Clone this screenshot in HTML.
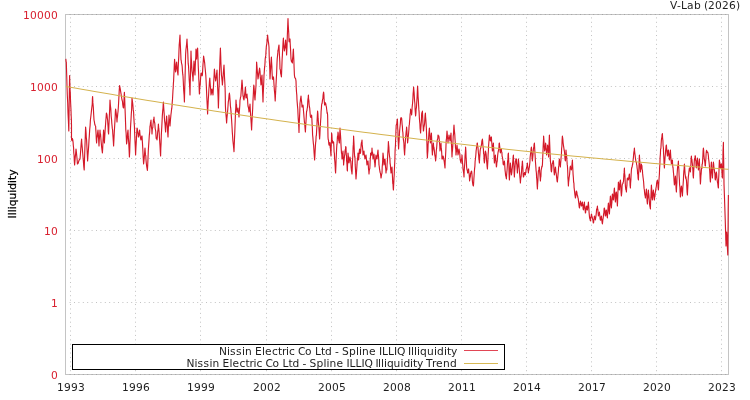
<!DOCTYPE html>
<html><head><meta charset="utf-8"><title>V-Lab</title>
<style>html,body{margin:0;padding:0;background:#fff}svg{display:block;will-change:transform}text{font-family:"DejaVu Sans","Liberation Sans",sans-serif;font-size:10.67px}</style></head><body>
<svg width="750" height="400" viewBox="0 0 750 400">
<rect width="750" height="400" fill="#fff"/>
<path d="M70.5 17.4 V374.5 M135.5 17.4 V374.5 M200.5 17.4 V374.5 M266.5 17.4 V374.5 M331.5 17.4 V374.5 M396.5 17.4 V374.5 M461.5 17.4 V374.5 M526.5 17.4 V374.5 M591.5 17.4 V374.5 M656.5 17.4 V374.5 M721.5 17.4 V374.5" fill="none" stroke="#c2c2c2" stroke-width="1" stroke-dasharray="1 3.41"/>
<path d="M69.6 86.5 H728.5 M69.6 158.5 H728.5 M69.6 230.5 H728.5 M69.6 302.5 H728.5" fill="none" stroke="#c2c2c2" stroke-width="1" stroke-dasharray="1 3.4"/>
<rect x="65.5" y="14.5" width="663.0" height="360.0" fill="none" stroke="#c4c4c4" stroke-width="1" shape-rendering="crispEdges"/>
<path d="M69.6 14.5 H728.5 M69.6 374.5 H728.5" fill="none" stroke="#a4a4a4" stroke-width="1" stroke-dasharray="1 3.4"/>
<path d="M65.6 59.0 65.8 59.2 65.9 59.5 66.1 61.7 66.3 62.0 66.5 69.0 66.8 78.6 67.0 86.3 67.3 95.0 67.7 102.7 68.0 113.0 68.4 120.6 68.8 131.0 69.0 116.9 69.2 102.0 69.4 88.1 69.6 75.5 69.8 81.4 70.0 88.7 70.3 92.7 70.5 100.0 70.7 104.2 71.0 110.4 71.2 116.3 71.4 120.0 71.5 125.2 71.5 129.7 71.5 136.4 71.6 140.0 71.8 138.4 72.1 140.6 72.3 138.6 72.6 139.0 72.8 140.2 73.1 142.4 73.3 145.2 73.6 148.0 73.8 153.2 74.1 155.5 74.3 161.0 74.6 165.0 74.9 161.4 75.3 156.6 75.7 153.1 76.0 149.0 76.3 151.4 76.7 155.2 77.1 159.4 77.4 164.0 78.1 163.3 78.7 161.3 79.3 159.7 80.0 159.0 80.4 154.3 80.8 148.9 81.2 143.4 81.6 139.0 81.8 143.1 82.1 146.1 82.3 148.0 82.6 152.0 83.0 156.7 83.4 161.1 83.8 166.6 84.2 170.0 84.5 159.9 84.9 147.9 85.2 139.2 85.6 127.0 85.8 129.1 86.1 133.3 86.3 137.5 86.6 140.0 86.8 144.2 87.1 150.5 87.3 154.4 87.6 161.0 87.9 156.3 88.3 151.3 88.7 145.5 89.0 140.0 89.3 136.1 89.7 129.4 90.1 125.6 90.4 120.0 90.8 116.8 91.2 113.2 91.6 109.4 92.0 106.0 92.2 104.7 92.3 102.6 92.4 98.9 92.6 96.6 92.9 102.9 93.3 107.0 93.7 114.8 94.0 120.0 94.4 121.9 94.8 124.5 95.2 125.5 95.6 126.0 95.8 129.6 96.1 134.2 96.3 139.3 96.6 143.0 96.9 138.3 97.3 136.4 97.7 132.3 98.0 130.0 98.2 132.9 98.5 136.7 98.8 142.8 99.0 146.0 99.2 140.9 99.5 137.2 99.8 133.7 100.0 130.0 100.2 133.6 100.5 133.7 100.8 137.3 101.0 140.0 101.3 143.4 101.7 147.7 102.1 150.7 102.4 153.0 102.7 148.3 103.0 140.8 103.3 135.5 103.6 130.0 103.8 132.8 104.0 137.7 104.2 141.1 104.4 143.0 104.7 137.2 105.0 132.5 105.3 127.9 105.6 124.0 105.8 120.5 106.0 118.5 106.2 116.0 106.4 113.0 106.7 114.0 107.0 115.0 107.3 118.0 107.6 120.0 107.8 123.1 108.1 127.2 108.3 131.9 108.6 134.0 108.9 126.1 109.3 117.0 109.7 108.9 110.0 100.0 110.4 105.5 110.8 108.7 111.2 116.2 111.6 120.0 111.8 123.3 112.1 126.1 112.3 128.4 112.6 130.0 112.8 133.7 113.1 137.7 113.3 140.8 113.6 146.0 113.9 139.9 114.3 131.7 114.7 125.2 115.0 120.0 115.2 116.4 115.3 113.5 115.4 111.3 115.6 109.0 115.9 110.9 116.3 114.0 116.7 117.7 117.0 122.0 117.2 118.3 117.5 116.6 117.8 113.1 118.0 112.0 118.4 106.5 118.8 99.1 119.2 91.1 119.6 85.6 120.2 88.5 120.8 92.3 121.4 96.0 122.0 100.0 122.4 100.9 122.8 105.0 123.2 107.5 123.6 108.0 123.8 104.0 124.0 100.2 124.2 95.1 124.4 92.4 124.7 99.1 125.0 107.7 125.3 115.4 125.6 124.0 125.8 130.0 126.1 133.0 126.3 137.6 126.6 144.0 126.9 141.9 127.3 137.1 127.7 132.4 128.0 130.0 128.3 136.9 128.7 142.1 129.1 150.3 129.4 157.0 129.7 151.7 129.9 144.6 130.2 137.3 130.4 130.0 130.7 124.3 131.0 119.6 131.3 114.0 131.6 110.0 131.7 107.8 131.8 104.1 131.9 101.8 132.0 98.0 132.4 101.0 132.8 104.2 133.2 109.4 133.6 112.0 133.8 117.0 134.0 120.1 134.2 123.4 134.4 126.0 134.7 134.2 135.0 141.2 135.3 146.9 135.6 155.0 135.9 148.3 136.3 141.1 136.7 133.3 137.0 128.0 137.3 128.8 137.7 131.8 138.1 134.0 138.4 137.0 138.7 135.8 139.0 134.9 139.3 131.6 139.6 130.0 139.9 133.8 140.3 136.5 140.7 138.9 141.0 140.0 141.2 138.6 141.5 137.2 141.8 136.2 142.0 136.0 142.4 142.1 142.8 149.1 143.2 157.4 143.6 164.0 143.9 161.2 144.3 157.0 144.7 151.9 145.0 148.0 145.2 151.5 145.5 154.9 145.8 155.8 146.0 160.0 146.3 163.1 146.7 166.4 147.1 168.6 147.4 170.4 147.7 165.1 148.0 158.1 148.3 151.1 148.6 146.0 148.9 141.9 149.3 135.5 149.7 131.9 150.0 126.0 150.2 125.9 150.5 122.7 150.8 121.2 151.0 120.0 151.2 124.8 151.5 127.7 151.8 129.5 152.0 134.0 152.2 130.4 152.5 128.0 152.8 127.7 153.0 124.0 153.2 123.2 153.5 119.4 153.8 119.7 154.0 117.0 154.2 120.7 154.5 122.0 154.8 123.3 155.0 126.0 155.2 128.6 155.5 129.9 155.8 132.0 156.0 136.0 156.2 138.4 156.5 138.4 156.8 139.1 157.0 140.0 157.3 137.3 157.7 131.8 158.1 129.1 158.4 124.0 158.7 128.2 158.9 129.6 159.2 133.0 159.4 137.0 159.7 141.1 160.0 145.7 160.3 151.5 160.6 156.0 160.8 148.8 161.1 142.8 161.3 135.4 161.6 130.0 161.8 126.7 162.1 120.6 162.3 116.4 162.6 112.0 162.8 109.8 163.0 108.2 163.2 104.3 163.4 102.0 163.7 107.3 163.9 110.0 164.2 114.1 164.4 118.0 164.7 121.6 165.0 123.6 165.3 128.3 165.6 132.0 165.8 127.0 166.1 122.5 166.3 120.9 166.6 116.0 166.9 120.3 167.3 126.4 167.7 132.4 168.0 137.0 168.2 131.7 168.5 125.5 168.8 120.6 169.0 115.0 169.2 117.9 169.5 121.4 169.8 122.1 170.0 126.0 170.2 123.2 170.5 119.2 170.8 116.3 171.0 114.0 171.2 112.8 171.5 110.0 171.8 108.2 172.0 106.0 172.2 102.8 172.5 99.2 172.8 93.8 173.0 90.0 173.2 88.1 173.3 85.5 173.4 83.3 173.6 81.0 173.8 76.2 174.1 70.1 174.3 64.9 174.6 59.4 174.8 62.5 175.1 67.0 175.3 69.4 175.6 72.0 175.8 70.6 176.1 68.3 176.3 63.8 176.6 62.0 176.9 65.4 177.3 69.8 177.7 72.8 178.0 75.0 178.2 67.7 178.5 61.4 178.8 56.1 179.0 50.0 179.2 45.0 179.5 41.7 179.8 37.5 180.0 35.0 180.2 41.8 180.5 48.4 180.8 54.9 181.0 60.0 181.2 60.2 181.5 63.1 181.8 64.2 182.0 65.0 182.2 66.7 182.5 71.6 182.8 74.7 183.0 76.0 183.3 81.7 183.7 90.4 184.1 95.2 184.4 102.0 184.7 90.2 185.0 80.0 185.3 67.7 185.6 55.0 185.9 50.0 186.3 46.8 186.7 43.0 187.0 39.0 187.2 43.5 187.5 48.1 187.8 53.5 188.0 59.0 188.2 63.7 188.5 65.6 188.8 71.2 189.0 75.0 189.2 79.8 189.5 83.6 189.8 89.5 190.0 95.0 190.2 84.4 190.5 73.0 190.8 60.7 191.0 51.0 191.2 57.5 191.5 61.9 191.8 67.4 192.0 71.0 192.2 72.3 192.5 75.3 192.8 77.1 193.0 81.0 193.2 76.8 193.5 70.3 193.8 64.9 194.0 61.0 194.2 64.3 194.5 69.2 194.8 72.5 195.0 75.0 195.2 67.8 195.5 60.9 195.8 56.8 196.0 49.0 196.2 51.7 196.3 54.6 196.4 55.3 196.6 59.0 196.8 54.9 197.1 54.1 197.3 50.5 197.6 48.0 197.8 53.0 198.1 61.8 198.3 67.2 198.6 73.0 198.8 79.2 199.0 82.3 199.2 89.8 199.4 94.0 199.8 87.4 200.2 84.6 200.6 78.1 201.0 73.0 201.3 73.0 201.7 74.2 202.1 75.8 202.4 75.0 202.7 69.6 203.0 64.4 203.3 60.8 203.6 56.0 203.9 58.0 204.3 60.3 204.7 63.2 205.0 67.0 205.2 68.7 205.5 72.1 205.8 75.4 206.0 79.0 206.4 87.2 206.8 97.3 207.2 104.6 207.6 114.0 207.8 109.3 208.1 103.5 208.3 99.3 208.6 95.0 208.9 89.3 209.2 85.8 209.5 80.8 209.8 78.0 210.1 82.9 210.4 86.7 210.7 89.8 211.0 95.0 211.2 93.4 211.5 93.3 211.8 89.3 212.0 89.0 212.2 91.5 212.5 91.8 212.8 93.5 213.0 95.0 213.3 89.5 213.7 81.7 214.1 75.5 214.4 69.0 214.7 72.6 215.0 76.4 215.3 77.5 215.6 81.0 215.9 79.2 216.3 76.1 216.7 73.2 217.0 70.0 217.3 79.2 217.7 88.5 218.1 97.2 218.4 108.0 218.7 98.6 218.9 90.2 219.2 84.0 219.4 75.0 219.7 67.5 219.9 60.5 220.2 53.5 220.4 48.0 220.7 55.8 220.9 62.6 221.2 68.8 221.4 75.0 221.7 76.8 221.9 79.2 222.2 81.9 222.4 85.0 222.8 79.9 223.2 74.0 223.6 69.8 224.0 65.0 224.2 69.5 224.5 76.9 224.8 82.2 225.0 86.0 225.2 92.1 225.3 97.2 225.4 105.4 225.6 110.0 225.8 112.7 226.1 116.1 226.3 118.3 226.6 123.0 226.9 118.4 227.3 114.4 227.7 110.3 228.0 106.0 228.3 101.9 228.7 99.5 229.1 94.8 229.4 93.0 229.7 95.5 229.9 98.3 230.2 102.4 230.4 106.0 230.7 108.1 231.0 111.6 231.3 115.9 231.6 120.0 231.8 123.2 232.1 128.3 232.3 132.1 232.6 136.0 232.9 140.7 233.3 144.3 233.7 148.3 234.0 151.6 234.2 146.3 234.5 138.5 234.8 131.9 235.0 126.0 235.2 121.0 235.5 111.9 235.8 107.2 236.0 100.0 236.2 103.4 236.5 104.6 236.8 110.0 237.0 112.0 237.2 112.2 237.5 110.4 237.8 109.7 238.0 108.0 238.2 111.2 238.5 111.4 238.8 114.8 239.0 117.0 239.2 112.8 239.5 109.5 239.8 105.2 240.0 100.0 240.2 99.5 240.5 97.3 240.8 96.7 241.0 94.0 241.2 91.0 241.5 87.6 241.8 82.7 242.0 80.0 242.2 82.6 242.5 86.9 242.8 91.6 243.0 96.0 243.2 95.8 243.5 99.0 243.8 99.2 244.0 100.0 244.3 97.1 244.7 93.9 245.1 90.8 245.4 87.0 245.6 89.7 245.7 91.0 245.8 96.1 246.0 98.0 246.2 97.7 246.5 96.0 246.8 95.1 247.0 94.0 247.2 97.5 247.5 98.7 247.8 103.7 248.0 106.0 248.2 106.8 248.5 107.7 248.8 109.8 249.0 112.0 249.2 110.7 249.5 107.1 249.8 106.7 250.0 104.0 250.4 111.9 250.8 117.0 251.2 123.1 251.6 130.0 251.9 122.4 252.3 115.6 252.7 108.3 253.0 100.0 253.2 96.6 253.4 92.9 253.6 87.5 253.8 85.0 254.1 87.7 254.4 91.8 254.7 97.0 255.0 100.0 255.2 95.9 255.5 93.2 255.8 88.0 256.0 86.0 256.1 78.7 256.3 73.3 256.5 68.5 256.6 62.0 257.0 66.8 257.3 71.0 257.6 74.1 258.0 79.0 258.4 76.3 258.8 73.4 259.2 70.6 259.6 68.0 260.0 71.1 260.3 77.7 260.6 79.8 261.0 85.0 261.2 83.9 261.5 81.3 261.8 76.1 262.0 75.0 262.2 81.6 262.5 89.5 262.8 96.7 263.0 102.0 263.2 95.1 263.5 87.8 263.8 80.9 264.0 75.0 264.2 73.3 264.5 68.1 264.8 66.2 265.0 63.0 265.2 58.9 265.5 57.1 265.8 55.4 266.0 51.0 266.4 45.9 266.8 44.0 267.2 39.0 267.6 35.0 268.0 39.2 268.3 41.6 268.6 43.2 269.0 47.0 269.2 56.2 269.5 63.0 269.8 69.6 270.0 79.0 270.4 72.0 270.7 68.0 271.0 62.4 271.4 57.0 271.6 61.9 271.9 66.9 272.1 73.0 272.4 79.0 272.7 78.2 273.0 79.5 273.3 76.8 273.6 78.0 274.0 84.5 274.4 90.5 274.8 94.1 275.2 101.0 275.6 92.8 276.1 82.6 276.6 73.7 277.0 63.0 277.2 59.1 277.5 56.1 277.8 52.9 278.0 50.0 278.2 50.2 278.5 47.8 278.8 45.8 279.0 45.0 279.2 50.8 279.5 56.3 279.8 61.6 280.0 69.0 280.4 69.8 280.7 74.0 281.0 74.4 281.4 77.0 281.6 72.8 281.9 65.2 282.1 59.8 282.4 55.0 282.6 50.8 282.9 45.6 283.1 41.9 283.4 38.0 283.6 42.6 283.9 45.7 284.1 48.7 284.4 51.0 284.7 48.6 285.0 46.7 285.3 44.1 285.6 40.0 285.9 43.9 286.1 48.2 286.4 49.9 286.6 55.0 287.0 46.6 287.3 36.7 287.6 28.5 288.0 18.6 288.2 24.6 288.5 29.2 288.8 34.0 289.0 41.0 289.2 41.8 289.5 38.9 289.8 39.4 290.0 39.0 290.2 43.5 290.5 48.4 290.8 54.7 291.0 59.0 291.4 61.4 291.7 60.3 292.0 62.5 292.4 63.0 292.6 58.9 292.9 56.2 293.1 52.2 293.4 49.0 293.6 54.5 293.9 61.0 294.1 67.6 294.4 75.0 294.8 77.7 295.2 78.0 295.6 78.7 296.0 81.0 296.2 87.0 296.5 92.0 296.8 95.1 297.0 100.0 297.2 102.4 297.5 106.1 297.8 109.3 298.0 114.0 298.2 118.1 298.5 122.0 298.8 127.0 299.0 132.4 299.2 124.3 299.5 117.9 299.8 111.5 300.0 103.0 300.2 102.0 300.5 99.2 300.8 97.5 301.0 96.0 301.2 98.8 301.5 101.1 301.8 103.8 302.0 107.0 302.2 105.2 302.5 105.3 302.8 106.9 303.0 105.0 303.2 106.9 303.5 111.0 303.8 114.4 304.0 117.0 304.4 121.8 304.7 123.6 305.0 127.6 305.4 132.0 305.7 126.0 306.0 121.2 306.3 116.1 306.6 111.0 306.9 110.9 307.1 109.0 307.4 107.6 307.6 105.0 307.8 101.1 308.0 98.6 308.2 98.1 308.4 95.0 308.6 99.2 308.9 100.9 309.1 104.3 309.4 107.0 309.7 108.0 310.0 111.7 310.3 115.8 310.6 117.0 310.9 117.5 311.1 117.1 311.4 116.9 311.6 115.0 311.9 119.2 312.1 123.8 312.4 129.0 312.6 135.0 312.9 137.6 313.1 140.5 313.4 143.8 313.6 145.0 313.9 149.4 314.1 152.9 314.4 157.0 314.6 160.0 314.9 155.6 315.1 151.7 315.4 145.9 315.6 143.0 315.9 140.8 316.1 136.2 316.4 135.3 316.6 131.0 316.9 126.4 317.1 120.4 317.4 114.9 317.6 111.0 317.9 113.8 318.1 118.4 318.4 122.1 318.6 125.0 318.9 127.3 319.1 130.7 319.4 135.6 319.6 139.0 319.9 134.7 320.1 129.7 320.4 124.7 320.6 121.0 320.9 117.3 321.1 111.5 321.4 108.4 321.6 105.0 321.9 103.4 322.1 103.4 322.4 100.9 322.6 99.0 322.9 98.4 323.1 95.4 323.4 93.0 323.6 92.0 323.9 94.5 324.1 99.9 324.4 102.4 324.6 105.0 324.9 103.9 325.1 102.6 325.4 103.5 325.6 103.0 325.9 105.0 326.1 105.8 326.4 106.8 326.6 109.0 326.9 111.0 327.1 113.3 327.4 112.7 327.6 115.0 327.7 119.1 327.8 125.5 327.9 131.3 328.0 137.0 328.2 139.5 328.5 140.1 328.8 143.9 329.0 145.0 329.2 145.2 329.5 144.0 329.8 142.6 330.0 143.0 330.2 147.7 330.5 148.9 330.8 153.7 331.0 156.0 331.1 149.4 331.3 143.7 331.5 139.5 331.6 133.0 331.9 134.9 332.1 139.4 332.4 140.5 332.6 143.0 332.9 141.8 333.1 141.7 333.4 142.0 333.6 142.0 333.9 146.7 334.1 151.8 334.4 153.7 334.6 159.0 334.9 162.2 335.1 165.1 335.4 170.9 335.6 173.0 335.9 165.9 336.1 159.7 336.4 153.7 336.6 149.0 336.8 145.7 337.0 144.2 337.2 141.2 337.4 137.0 337.5 136.4 337.7 136.0 337.9 134.5 338.0 132.0 338.1 133.2 338.3 134.6 338.5 138.6 338.6 139.0 338.8 140.7 339.0 139.6 339.2 142.5 339.4 143.0 339.5 138.9 339.7 135.1 339.9 131.2 340.0 128.0 340.2 131.3 340.5 135.0 340.8 140.1 341.0 145.0 341.2 148.1 341.5 153.4 341.8 154.4 342.0 159.0 342.2 158.4 342.5 154.1 342.8 152.6 343.0 151.0 343.1 155.5 343.3 159.0 343.5 161.3 343.6 165.0 343.9 161.1 344.1 159.9 344.4 157.1 344.6 155.0 344.8 154.8 345.0 151.1 345.2 150.1 345.4 149.0 345.5 149.7 345.7 146.6 345.9 147.2 346.0 147.0 346.1 151.4 346.3 154.8 346.5 156.1 346.6 161.0 346.8 162.1 347.0 164.7 347.2 169.8 347.4 171.0 347.5 165.8 347.7 162.7 347.9 158.7 348.0 153.0 348.2 155.0 348.5 157.3 348.8 161.9 349.0 163.0 349.2 161.9 349.5 159.3 349.8 159.1 350.0 157.0 350.2 158.4 350.5 160.3 350.8 161.5 351.0 165.0 351.2 168.0 351.5 170.7 351.8 172.2 352.0 174.0 352.2 169.6 352.5 161.1 352.8 156.0 353.0 151.0 353.1 147.2 353.3 144.9 353.5 141.1 353.6 136.0 353.8 139.9 354.0 143.8 354.2 148.5 354.4 153.0 354.5 154.5 354.7 157.3 354.9 156.5 355.0 159.0 355.2 164.9 355.5 169.7 355.8 175.0 356.0 179.0 356.2 176.3 356.5 172.3 356.8 168.0 357.0 165.0 357.2 161.5 357.5 158.6 357.8 156.8 358.0 153.0 358.1 153.5 358.3 155.6 358.5 159.0 358.6 160.0 358.9 156.5 359.1 153.2 359.4 150.4 359.6 149.0 359.8 150.2 360.0 150.5 360.2 153.4 360.4 153.0 360.5 152.7 360.7 151.5 360.9 147.8 361.0 147.0 361.2 144.0 361.5 142.3 361.8 141.7 362.0 140.0 362.2 144.4 362.5 147.3 362.8 150.5 363.0 155.0 363.2 153.8 363.5 153.4 363.8 152.5 364.0 151.0 364.2 153.7 364.5 156.0 364.8 157.5 365.0 159.0 365.2 156.9 365.5 158.0 365.8 155.4 366.0 155.0 366.2 157.7 366.5 159.6 366.8 163.2 367.0 165.0 367.2 163.1 367.5 162.2 367.8 161.2 368.0 161.0 368.2 163.2 368.5 168.7 368.8 171.0 369.0 174.0 369.2 171.2 369.5 169.2 369.8 168.7 370.0 165.0 370.1 162.0 370.3 158.2 370.5 156.9 370.6 153.0 370.8 154.0 371.0 155.5 371.2 153.3 371.4 155.0 371.5 153.2 371.7 152.5 371.9 150.8 372.0 148.0 372.2 152.0 372.5 152.1 372.8 155.6 373.0 159.0 373.2 156.6 373.5 155.6 373.8 156.7 374.0 154.0 374.2 157.5 374.5 161.8 374.8 163.4 375.0 167.0 375.2 165.1 375.5 160.8 375.8 157.3 376.0 155.0 376.2 156.8 376.5 158.3 376.8 156.8 377.0 159.0 377.2 157.0 377.5 154.9 377.8 151.4 378.0 150.0 378.2 153.4 378.5 156.4 378.8 160.4 379.0 165.0 379.2 166.0 379.5 168.8 379.8 170.7 380.0 172.0 380.2 172.6 380.5 173.5 380.8 176.0 381.0 178.0 381.2 177.3 381.5 174.6 381.8 173.7 382.0 173.0 382.2 167.1 382.5 163.9 382.8 158.1 383.0 153.0 383.2 154.7 383.5 157.8 383.8 161.7 384.0 165.0 384.2 163.7 384.5 162.4 384.8 159.3 385.0 159.0 385.2 161.5 385.5 166.6 385.8 169.2 386.0 173.0 386.2 170.8 386.5 169.4 386.8 169.9 387.0 167.0 387.1 163.9 387.3 162.2 387.5 159.1 387.6 157.0 387.8 152.9 388.0 150.4 388.2 146.9 388.4 141.6 388.6 144.5 388.9 147.4 389.1 152.3 389.4 155.0 389.6 156.6 389.9 158.5 390.1 163.7 390.4 165.0 390.5 166.8 390.7 170.0 390.9 170.7 391.0 173.0 391.2 172.6 391.5 169.9 391.8 167.5 392.0 167.0 392.1 168.8 392.3 173.7 392.5 177.2 392.6 180.0 392.8 183.7 393.0 183.8 393.2 187.9 393.4 190.0 393.6 185.9 393.8 182.5 394.0 177.7 394.2 175.0 394.4 169.3 394.6 165.1 394.8 161.3 395.0 155.0 395.1 150.1 395.3 147.5 395.5 144.7 395.6 140.0 395.8 137.7 395.9 131.6 396.1 127.6 396.2 125.0 396.5 124.8 396.8 123.4 397.1 120.4 397.4 119.0 397.5 121.7 397.7 128.3 397.9 130.7 398.0 135.0 398.1 139.7 398.3 142.4 398.5 146.5 398.6 149.0 398.9 143.5 399.1 140.9 399.4 134.7 399.6 131.0 399.9 127.7 400.1 126.0 400.4 123.0 400.6 119.0 400.9 117.8 401.1 117.7 401.4 117.9 401.6 118.0 401.9 121.3 402.1 124.2 402.4 126.6 402.6 131.0 402.9 132.7 403.1 136.7 403.4 139.7 403.6 141.0 403.9 143.1 404.1 148.2 404.4 152.3 404.6 155.0 404.9 149.1 405.1 147.0 405.4 140.4 405.6 137.0 405.9 134.8 406.1 132.2 406.4 129.9 406.6 127.0 406.9 130.4 407.1 134.8 407.4 139.2 407.6 143.0 407.9 140.3 408.1 138.5 408.4 135.3 408.6 133.0 408.9 129.8 409.1 125.6 409.4 124.4 409.6 121.0 409.9 118.0 410.1 114.2 410.4 112.8 410.6 109.0 410.9 111.3 411.1 111.9 411.4 112.5 411.6 115.0 411.9 111.9 412.1 107.8 412.4 104.9 412.6 103.0 412.9 98.8 413.1 93.8 413.4 90.8 413.6 87.0 413.9 90.5 414.1 92.6 414.4 97.9 414.6 101.0 414.9 103.5 415.1 109.2 415.4 113.1 415.6 116.0 415.9 113.3 416.1 109.2 416.4 107.8 416.6 105.0 416.9 99.9 417.1 96.9 417.4 89.7 417.6 86.0 417.9 91.8 418.1 97.0 418.4 100.9 418.6 105.0 418.9 109.9 419.1 112.1 419.4 118.4 419.6 121.0 419.9 124.0 420.1 128.4 420.4 131.2 420.6 133.0 420.9 127.5 421.1 124.9 421.4 120.8 421.6 115.0 421.8 112.7 422.0 112.6 422.2 112.8 422.4 111.0 422.6 115.0 422.9 122.2 423.1 125.3 423.4 131.0 423.6 130.4 423.9 126.9 424.1 126.5 424.4 125.0 424.6 123.3 424.9 118.1 425.1 115.3 425.4 113.0 425.6 117.0 425.9 120.5 426.1 123.6 426.4 129.0 426.6 135.3 426.9 142.5 427.1 152.1 427.4 158.0 427.6 154.3 427.9 150.7 428.1 144.3 428.4 141.0 428.6 138.6 428.9 133.3 429.1 131.3 429.4 128.0 429.6 132.2 429.9 135.1 430.1 140.4 430.4 143.0 430.6 140.7 430.9 138.2 431.1 136.6 431.4 133.0 431.6 137.3 431.9 145.5 432.1 149.9 432.4 155.0 432.6 151.7 432.9 149.9 433.1 145.3 433.4 143.0 433.6 146.5 433.9 147.2 434.1 148.6 434.4 151.0 434.7 154.3 435.0 155.8 435.3 157.5 435.6 161.0 436.0 157.2 436.3 150.6 436.6 148.5 437.0 143.0 437.2 140.3 437.5 139.4 437.8 138.5 438.0 135.0 438.2 135.8 438.5 136.5 438.8 135.9 439.0 137.0 439.2 139.0 439.5 142.6 439.8 146.4 440.0 151.0 440.2 149.3 440.5 146.8 440.8 145.0 441.0 143.0 441.2 148.2 441.5 149.9 441.8 154.2 442.0 159.0 442.4 159.0 442.7 156.6 443.0 156.0 443.4 157.0 443.8 159.3 444.2 161.3 444.6 164.8 445.0 168.0 445.2 161.4 445.5 156.8 445.8 151.0 446.0 145.0 446.2 140.6 446.5 138.4 446.8 134.4 447.0 131.0 447.2 132.9 447.5 138.3 447.8 139.2 448.0 143.0 448.2 139.9 448.5 137.8 448.8 137.4 449.0 135.0 449.2 137.6 449.5 138.8 449.8 139.2 450.0 141.0 450.2 138.3 450.5 135.5 450.8 135.4 451.0 133.0 451.2 139.2 451.5 144.6 451.8 151.4 452.0 157.0 452.2 152.8 452.5 150.3 452.8 145.7 453.0 141.0 453.2 136.2 453.5 134.2 453.8 127.6 454.0 125.0 454.2 128.6 454.5 131.7 454.8 134.7 455.0 139.0 455.2 141.7 455.5 147.8 455.8 149.5 456.0 155.0 456.2 152.7 456.5 151.3 456.8 146.4 457.0 145.0 457.2 146.6 457.5 150.3 457.8 152.5 458.0 155.0 458.2 153.9 458.5 152.9 458.8 149.5 459.0 149.0 459.2 150.4 459.5 152.4 459.8 153.6 460.0 157.0 460.2 159.7 460.5 160.8 460.8 162.1 461.0 163.0 461.2 159.5 461.5 160.0 461.8 157.7 462.0 155.0 462.2 158.4 462.5 162.7 462.8 165.4 463.0 169.0 463.2 170.2 463.5 171.8 463.8 174.2 464.0 177.0 464.2 170.6 464.5 166.5 464.8 162.7 465.0 157.0 465.1 155.1 465.3 153.0 465.5 150.1 465.6 147.0 465.9 151.3 466.1 157.2 466.4 161.8 466.6 167.0 466.9 169.4 467.1 170.1 467.4 170.8 467.6 173.0 467.9 172.4 468.1 172.4 468.4 169.2 468.6 169.0 468.9 173.1 469.1 173.5 469.4 177.3 469.6 181.0 469.9 178.2 470.1 177.7 470.4 176.3 470.6 173.0 470.9 173.2 471.1 171.5 471.4 172.6 471.6 171.0 471.9 173.5 472.1 176.2 472.4 181.2 472.6 183.0 472.8 184.1 473.0 185.1 473.2 185.7 473.4 186.0 473.6 183.7 473.9 178.4 474.1 175.8 474.4 171.0 474.6 168.6 474.9 166.1 475.1 161.8 475.4 159.0 475.6 157.2 475.9 154.2 476.1 150.9 476.4 149.0 476.6 146.6 476.9 146.4 477.1 143.2 477.4 143.0 477.6 146.7 477.9 146.9 478.1 149.1 478.4 153.0 478.6 154.3 478.9 159.3 479.1 160.0 479.4 163.0 479.6 158.4 479.9 154.6 480.1 151.1 480.4 149.0 480.6 148.6 480.9 147.4 481.1 146.6 481.4 145.0 481.6 144.2 481.9 140.7 482.1 140.8 482.4 139.0 482.6 141.1 482.9 145.0 483.1 147.5 483.4 149.0 483.6 153.7 483.9 154.7 484.1 160.6 484.4 163.0 484.6 161.2 484.9 158.3 485.1 152.8 485.4 151.0 485.6 151.6 485.9 152.8 486.1 154.1 486.4 157.0 486.6 161.0 486.9 163.9 487.1 166.4 487.4 169.0 487.6 165.5 487.9 160.4 488.1 154.9 488.4 151.0 488.6 145.8 488.9 141.8 489.1 139.8 489.4 135.0 489.6 135.6 489.9 137.5 490.1 139.3 490.4 141.0 490.6 138.6 490.9 138.3 491.1 137.3 491.4 137.0 491.6 141.1 491.9 143.6 492.1 147.0 492.4 151.0 492.6 150.4 492.9 147.0 493.1 146.1 493.4 143.0 493.6 148.4 493.9 151.6 494.1 157.7 494.4 163.0 494.6 160.8 494.9 159.8 495.1 156.5 495.4 155.0 495.6 158.6 495.9 161.1 496.1 163.1 496.4 167.0 496.6 166.1 496.9 161.8 497.1 162.0 497.4 159.0 497.6 156.0 497.9 153.5 498.1 152.1 498.4 151.0 498.6 149.8 498.9 148.4 499.1 143.5 499.4 143.0 499.6 145.5 499.9 148.0 500.1 151.4 500.4 153.0 500.6 151.1 500.9 151.0 501.1 149.5 501.4 149.0 501.6 152.0 501.9 152.3 502.1 156.3 502.4 157.0 502.6 158.4 502.9 160.1 503.1 163.6 503.4 165.0 503.6 164.0 503.9 161.8 504.1 162.4 504.4 161.0 504.6 162.7 504.9 167.9 505.1 170.6 505.4 173.0 505.6 175.4 505.9 176.4 506.1 177.1 506.4 179.0 506.6 175.2 506.9 171.7 507.1 169.7 507.4 165.0 507.6 160.8 507.9 160.2 508.1 154.6 508.4 153.0 508.6 158.9 508.9 165.8 509.1 174.5 509.4 180.0 509.6 175.8 509.9 171.1 510.1 168.4 510.4 163.0 510.6 165.2 510.9 168.9 511.1 172.1 511.4 175.0 511.6 173.8 511.9 171.8 512.1 169.4 512.4 167.0 512.6 163.5 512.9 160.5 513.1 157.0 513.4 155.0 513.6 161.5 513.9 166.5 514.1 172.2 514.4 177.0 514.6 172.0 514.9 168.8 515.1 165.8 515.4 161.0 515.6 160.7 515.9 158.9 516.1 159.4 516.4 159.0 516.6 163.7 516.9 165.2 517.1 168.6 517.4 173.0 517.6 168.9 517.9 166.6 518.1 163.5 518.4 159.0 518.6 161.0 518.9 164.0 519.1 167.2 519.4 171.0 519.6 173.5 519.9 177.1 520.1 179.0 520.4 183.0 520.6 180.0 520.9 177.1 521.1 176.9 521.4 173.0 521.6 170.7 521.9 165.8 522.1 165.4 522.4 161.0 522.6 163.8 522.9 168.7 523.1 174.5 523.4 177.0 523.6 176.9 523.9 175.7 524.1 173.8 524.4 173.0 524.6 172.6 524.9 174.4 525.1 173.3 525.4 175.0 525.6 172.6 525.9 171.7 526.1 169.1 526.4 169.0 526.6 167.2 526.9 166.9 527.1 165.1 527.4 163.0 527.6 165.5 527.9 168.4 528.1 170.4 528.4 173.0 528.6 170.4 528.9 170.3 529.1 168.2 529.4 167.0 529.6 164.7 529.9 162.2 530.1 157.8 530.4 155.0 530.6 153.2 530.9 151.7 531.1 148.8 531.4 147.0 531.6 149.7 531.9 154.7 532.1 158.6 532.4 161.0 532.6 158.8 532.9 155.6 533.1 153.1 533.4 149.0 533.6 148.0 533.9 146.4 534.1 144.4 534.4 143.0 534.6 146.9 534.9 152.4 535.1 155.3 535.4 161.0 535.6 163.8 535.9 167.8 536.1 170.6 536.4 173.0 536.6 177.4 536.9 180.3 537.1 184.8 537.4 189.0 537.6 184.4 537.9 180.4 538.1 175.2 538.4 171.0 538.6 170.5 538.9 170.3 539.1 167.0 539.4 167.0 539.6 171.0 539.9 174.8 540.1 177.2 540.4 181.0 540.6 178.0 540.9 176.4 541.1 170.6 541.4 169.0 541.6 168.1 541.9 166.0 542.1 166.8 542.4 165.0 542.5 162.8 542.7 158.1 542.9 153.3 543.0 151.0 543.1 147.5 543.3 143.6 543.5 140.4 543.6 136.0 543.9 139.8 544.1 143.9 544.4 148.2 544.6 151.0 544.9 149.1 545.1 146.7 545.4 146.3 545.6 143.0 545.9 145.1 546.1 149.6 546.4 151.7 546.6 155.0 546.9 153.3 547.1 148.9 547.4 149.0 547.6 145.0 547.9 147.6 548.1 149.7 548.4 153.3 548.6 157.0 548.8 151.2 549.0 144.5 549.2 140.3 549.4 135.0 549.6 141.3 549.9 148.6 550.1 154.1 550.4 161.0 550.6 163.0 550.9 165.7 551.1 170.0 551.4 172.0 551.6 171.1 551.9 167.6 552.1 164.4 552.4 163.0 552.6 163.4 552.9 161.7 553.1 160.6 553.4 161.0 553.6 163.4 553.9 168.8 554.1 172.4 554.4 175.0 554.6 173.4 554.9 170.9 555.1 169.2 555.4 167.0 555.6 168.2 555.9 172.4 556.1 172.6 556.4 175.0 556.6 177.2 556.9 179.5 557.1 181.2 557.4 182.0 557.6 179.2 557.9 175.9 558.1 173.9 558.4 171.0 558.6 166.9 558.9 166.0 559.1 161.6 559.4 159.0 559.6 162.1 559.9 162.3 560.1 164.6 560.4 167.0 560.6 163.3 560.9 160.8 561.1 157.1 561.4 155.0 561.6 148.8 561.9 146.2 562.1 140.1 562.4 136.0 562.6 137.5 562.9 139.9 563.1 142.7 563.4 145.0 563.6 146.3 563.9 148.4 564.1 150.0 564.4 151.0 564.6 153.1 564.9 157.3 565.1 159.6 565.4 161.0 565.5 156.9 565.7 156.5 565.9 154.0 566.0 150.0 566.2 153.6 566.5 154.4 566.8 159.2 567.0 161.0 567.2 164.4 567.4 165.5 567.6 168.5 567.8 173.0 567.9 177.6 568.1 180.0 568.2 182.0 568.4 186.0 568.6 182.3 568.9 179.9 569.1 177.7 569.4 176.0 569.6 174.3 569.9 170.5 570.1 167.5 570.4 166.0 570.6 168.2 570.9 168.9 571.1 168.0 571.4 170.0 571.6 168.7 571.9 165.3 572.1 163.3 572.4 160.0 572.6 165.0 572.9 170.2 573.1 174.4 573.4 178.0 573.6 182.0 573.9 183.1 574.1 187.6 574.4 190.0 574.6 192.1 574.9 194.7 575.1 195.8 575.4 198.0 575.6 197.4 575.9 194.7 576.1 192.0 576.4 191.0 576.6 191.5 576.9 192.4 577.1 194.7 577.4 196.0 577.6 195.7 577.9 197.9 578.1 197.9 578.4 200.0 578.6 202.0 578.9 204.0 579.1 206.1 579.4 208.0 579.6 207.3 579.9 203.0 580.1 203.8 580.4 201.0 580.6 202.2 580.9 203.7 581.1 205.2 581.4 206.0 581.6 206.0 581.9 203.6 582.1 202.8 582.4 202.0 582.6 205.4 582.9 204.7 583.1 208.4 583.4 210.0 583.6 208.4 583.9 204.6 584.1 204.3 584.4 202.0 584.6 205.3 584.9 208.8 585.1 209.7 585.4 213.0 585.6 212.7 585.9 209.5 586.1 207.7 586.4 206.0 586.6 208.2 586.9 206.6 587.1 209.7 587.4 210.0 587.6 208.4 587.9 205.5 588.1 205.1 588.4 202.0 588.6 205.1 588.9 208.9 589.1 212.6 589.4 216.0 589.6 218.1 589.9 217.6 590.1 219.6 590.4 221.0 590.6 219.0 590.9 217.7 591.1 216.7 591.4 214.0 591.6 214.4 591.9 217.0 592.1 216.7 592.4 218.0 592.6 219.3 592.9 219.8 593.1 221.8 593.4 223.0 593.6 222.7 593.9 220.0 594.1 218.6 594.4 216.0 594.6 216.5 594.9 217.5 595.1 218.4 595.4 220.0 595.6 218.3 595.9 216.4 596.1 214.9 596.4 212.0 596.6 209.1 596.9 209.7 597.1 208.7 597.4 206.0 597.6 208.6 597.9 209.6 598.1 212.9 598.4 216.0 598.6 213.5 598.9 213.1 599.1 214.3 599.4 212.0 599.6 214.3 599.9 216.5 600.1 218.9 600.4 220.0 600.6 220.2 600.9 218.3 601.1 217.4 601.4 216.0 601.6 218.4 601.9 220.6 602.1 222.3 602.4 224.0 602.6 222.5 602.9 219.1 603.1 218.5 603.4 216.0 603.6 213.9 603.9 212.8 604.1 208.8 604.4 208.0 604.6 209.0 604.9 210.6 605.1 214.8 605.4 216.0 605.6 215.7 605.9 213.5 606.1 211.1 606.4 210.0 606.6 213.0 606.9 214.9 607.1 216.2 607.4 218.0 607.6 213.5 607.9 209.9 608.1 206.5 608.4 203.0 608.6 205.2 608.9 208.3 609.1 211.7 609.4 214.0 609.6 210.8 609.9 203.7 610.1 200.7 610.4 196.0 610.6 197.6 610.9 200.9 611.1 205.9 611.4 208.0 611.6 204.7 611.9 202.3 612.1 197.3 612.4 194.0 612.6 194.0 612.9 196.7 613.1 198.8 613.4 200.0 613.6 198.3 613.9 195.4 614.1 190.9 614.4 188.0 614.6 191.2 614.9 193.8 615.1 198.9 615.4 202.0 615.6 198.6 615.9 196.0 616.1 193.0 616.4 192.0 616.6 194.0 616.9 199.6 617.1 201.4 617.4 206.0 617.6 201.4 617.9 192.8 618.1 189.1 618.4 182.0 618.6 182.9 618.9 184.6 619.1 188.7 619.4 190.0 619.6 186.7 619.9 185.7 620.1 181.6 620.4 180.0 620.6 182.7 620.9 188.8 621.1 192.6 621.4 196.0 621.6 194.1 621.9 190.7 622.1 185.8 622.4 184.0 622.6 183.9 622.9 183.6 623.1 182.4 623.4 182.0 623.6 179.8 623.9 174.3 624.1 172.9 624.4 168.0 624.6 173.2 624.9 175.5 625.1 180.0 625.4 186.0 625.6 188.0 625.9 190.0 626.1 189.2 626.4 192.0 626.6 187.9 626.9 185.7 627.1 180.5 627.4 178.0 627.6 179.6 627.9 179.0 628.1 178.2 628.4 180.0 628.6 178.1 628.9 177.2 629.1 175.3 629.4 174.0 629.6 178.0 629.9 179.9 630.1 185.4 630.4 188.0 630.6 183.1 630.9 179.4 631.1 174.9 631.4 170.0 631.6 168.5 631.9 167.2 632.1 167.1 632.4 165.0 632.6 164.6 632.9 162.4 633.1 160.0 633.4 158.0 633.6 154.9 633.9 151.7 634.1 151.9 634.4 148.0 634.6 151.1 634.9 154.0 635.1 155.0 635.4 158.0 635.6 159.3 635.9 161.4 636.1 162.0 636.4 162.0 636.6 164.3 636.9 165.4 637.1 167.8 637.4 170.0 637.6 173.7 637.9 174.6 638.1 178.1 638.4 180.0 638.6 174.1 638.9 168.7 639.1 162.2 639.4 155.0 639.6 158.6 639.9 162.0 640.1 167.0 640.4 172.0 640.6 169.8 640.9 168.3 641.1 166.9 641.4 164.0 641.6 166.7 641.9 165.6 642.1 169.5 642.4 170.0 642.6 173.4 642.9 176.1 643.1 177.7 643.4 180.0 643.6 181.8 643.9 186.1 644.1 188.4 644.4 190.0 644.6 192.6 644.9 195.2 645.1 195.5 645.4 198.0 645.6 194.5 645.9 193.7 646.1 192.1 646.4 189.0 646.6 191.9 646.9 197.3 647.1 201.5 647.4 204.0 647.6 199.7 647.9 197.3 648.1 194.0 648.4 190.0 648.6 192.9 648.9 195.1 649.1 198.3 649.4 202.0 649.6 204.5 649.9 206.4 650.1 207.1 650.4 209.0 650.6 201.8 650.9 197.9 651.1 191.8 651.4 185.0 651.6 187.9 651.9 192.7 652.1 197.4 652.4 200.0 652.6 198.7 652.9 195.1 653.1 192.4 653.4 190.0 653.6 192.8 653.9 194.1 654.1 196.6 654.4 200.0 654.6 197.0 654.9 196.6 655.1 193.6 655.4 192.0 655.6 190.7 655.9 188.7 656.1 187.6 656.4 186.0 656.6 183.4 656.9 181.6 657.1 183.0 657.4 180.0 657.6 182.1 657.9 183.8 658.1 187.9 658.4 190.0 658.6 186.9 658.9 181.0 659.1 178.3 659.4 174.0 659.6 168.5 659.9 164.1 660.1 157.6 660.4 154.0 660.6 149.1 660.9 148.5 661.1 144.6 661.4 140.0 661.6 138.4 661.9 137.0 662.1 134.5 662.4 133.6 662.6 138.0 662.9 140.6 663.1 145.7 663.4 148.0 663.6 153.8 663.9 159.0 664.1 164.4 664.4 168.0 664.6 163.8 664.9 159.6 665.1 156.6 665.4 154.0 665.6 150.8 665.9 148.3 666.1 145.9 666.4 145.0 666.6 147.9 666.9 151.6 667.1 153.1 667.4 156.0 667.6 155.8 667.9 154.2 668.1 150.2 668.4 150.0 668.6 152.8 668.9 154.7 669.1 156.4 669.4 160.0 669.6 158.9 669.9 154.3 670.1 152.7 670.4 150.0 670.6 153.9 670.9 158.4 671.1 161.0 671.4 164.0 671.6 162.7 671.9 161.8 672.1 160.0 672.4 160.0 672.6 164.4 672.9 167.5 673.1 168.2 673.4 172.0 673.6 173.9 673.9 177.8 674.1 181.3 674.4 185.0 674.6 184.0 674.9 181.7 675.1 179.3 675.4 176.0 675.6 178.6 675.9 184.9 676.1 188.6 676.4 192.0 676.6 186.9 676.9 182.5 677.1 174.2 677.4 170.0 677.6 166.7 677.9 166.3 678.1 164.6 678.4 161.0 678.6 166.3 678.9 169.9 679.1 175.5 679.4 180.0 679.6 185.0 679.9 187.3 680.1 192.2 680.4 197.0 680.6 193.5 680.9 190.4 681.1 188.7 681.4 186.0 681.6 187.5 681.9 190.2 682.1 192.4 682.4 196.0 682.6 192.5 682.9 186.5 683.1 184.7 683.4 180.0 683.6 175.1 683.9 170.6 684.1 169.3 684.4 164.0 684.6 166.2 684.9 171.3 685.1 174.1 685.4 176.0 685.6 178.2 685.9 176.9 686.1 178.8 686.4 180.0 686.6 182.5 686.9 188.8 687.1 192.3 687.4 195.0 687.6 190.6 687.9 185.4 688.1 180.3 688.4 176.0 688.6 175.0 688.9 171.9 689.1 170.4 689.4 168.0 689.6 167.9 689.9 169.2 690.1 169.7 690.4 172.0 690.6 168.6 690.9 164.2 691.1 158.9 691.4 156.0 691.6 159.1 691.9 159.3 692.1 161.7 692.4 164.0 692.6 166.5 692.9 170.3 693.1 175.5 693.4 178.0 693.6 173.0 693.9 168.0 694.1 164.5 694.4 160.0 694.6 158.5 694.9 159.2 695.1 155.8 695.4 156.0 695.6 160.4 695.9 160.7 696.1 166.2 696.4 168.0 696.6 166.0 696.9 162.1 697.1 160.4 697.4 158.0 697.6 160.4 697.9 163.3 698.1 166.1 698.4 170.0 698.6 166.8 698.9 166.0 699.1 163.2 699.4 159.0 699.6 166.5 699.9 170.3 700.1 177.1 700.4 184.0 700.6 181.7 700.9 175.7 701.1 174.2 701.4 170.0 701.6 167.9 701.9 168.4 702.1 164.0 702.4 164.0 702.6 160.9 702.9 155.5 703.1 150.9 703.4 148.0 703.6 149.5 703.9 155.0 704.1 157.1 704.4 160.0 704.6 160.6 704.9 162.8 705.1 165.7 705.4 166.0 705.6 161.4 705.9 158.7 706.1 153.7 706.4 151.0 706.6 150.3 706.9 152.3 707.1 152.4 707.4 152.0 707.6 152.1 707.9 152.7 708.1 153.8 708.4 156.0 708.6 158.8 708.9 161.0 709.1 162.8 709.4 166.0 709.6 169.1 709.9 174.3 710.1 178.6 710.4 182.0 710.6 177.9 710.9 172.2 711.1 166.1 711.4 162.0 711.6 164.7 711.9 170.7 712.1 173.7 712.4 178.0 712.6 174.7 712.9 168.7 713.1 166.9 713.4 162.0 713.6 163.5 713.9 167.0 714.1 169.1 714.4 170.0 714.6 172.5 714.9 173.5 715.1 178.7 715.4 180.0 715.6 177.9 715.9 177.1 716.1 173.3 716.4 172.0 716.6 173.6 716.9 178.0 717.1 179.1 717.4 182.0 717.6 182.5 717.9 184.6 718.1 186.8 718.4 188.0 718.6 179.5 718.9 174.1 719.1 166.8 719.4 160.0 719.6 162.0 719.9 162.9 720.1 166.6 720.4 168.0 720.6 167.9 720.9 167.1 721.1 164.5 721.4 164.0 721.6 168.1 721.9 170.6 722.1 175.3 722.4 178.0 722.5 170.2 722.7 166.1 722.9 159.9 723.0 152.0 723.1 149.6 723.2 147.2 723.3 144.9 723.4 142.4 723.5 152.9 723.7 161.8 723.9 175.0 724.0 184.0 724.4 195.2 724.8 207.0 725.2 218.8 725.6 232.0 725.7 234.8 725.8 240.0 725.9 241.1 726.0 246.0 726.1 241.3 726.3 239.6 726.5 234.6 726.6 232.0 726.9 236.3 727.2 243.8 727.5 249.5 727.8 255.0 727.9 240.1 728.1 225.6 728.2 208.8 728.4 195.0" fill="none" stroke="#d41a2a" stroke-width="1.15" stroke-linejoin="round"/>
<path d="M65.8 86.4 L70.0 87.2 L76.0 88.2 L82.0 89.3 L88.0 90.3 L94.0 91.4 L100.0 92.4 L106.0 93.4 L112.0 94.4 L118.0 95.5 L124.0 96.5 L130.0 97.5 L136.0 98.5 L142.0 99.5 L148.0 100.5 L154.0 101.4 L160.0 102.4 L166.0 103.4 L172.0 104.4 L178.0 105.3 L184.0 106.3 L190.0 107.2 L196.0 108.2 L202.0 109.1 L208.0 110.0 L214.0 111.0 L220.0 111.9 L226.0 112.8 L232.0 113.7 L238.0 114.6 L244.0 115.5 L250.0 116.4 L256.0 117.3 L262.0 118.2 L268.0 119.0 L274.0 119.9 L280.0 120.8 L286.0 121.6 L292.0 122.5 L298.0 123.3 L304.0 124.2 L310.0 125.0 L316.0 125.8 L322.0 126.7 L328.0 127.5 L334.0 128.3 L340.0 129.1 L346.0 129.9 L352.0 130.7 L358.0 131.5 L364.0 132.3 L370.0 133.0 L376.0 133.8 L382.0 134.6 L388.0 135.3 L394.0 136.1 L400.0 136.9 L406.0 137.6 L412.0 138.3 L418.0 139.1 L424.0 139.8 L430.0 140.5 L436.0 141.2 L442.0 141.9 L448.0 142.7 L454.0 143.4 L460.0 144.0 L466.0 144.7 L472.0 145.4 L478.0 146.1 L484.0 146.8 L490.0 147.4 L496.0 148.1 L502.0 148.7 L508.0 149.4 L514.0 150.0 L520.0 150.7 L526.0 151.3 L532.0 151.9 L538.0 152.6 L544.0 153.2 L550.0 153.8 L556.0 154.4 L562.0 155.0 L568.0 155.6 L574.0 156.2 L580.0 156.7 L586.0 157.3 L592.0 157.9 L598.0 158.4 L604.0 159.0 L610.0 159.5 L616.0 160.1 L622.0 160.6 L628.0 161.2 L634.0 161.7 L640.0 162.2 L646.0 162.7 L652.0 163.3 L658.0 163.8 L664.0 164.3 L670.0 164.8 L676.0 165.2 L682.0 165.7 L688.0 166.2 L694.0 166.7 L700.0 167.1 L706.0 167.6 L712.0 168.1 L718.0 168.5 L724.0 169.0 L728.4 169.3" fill="none" stroke="#d4b24c" stroke-width="1"/>
<text x="23 30 37 44 51" y="19.0" fill="#d8202f">10000</text>
<text x="30 37 44 51" y="91.0" fill="#d8202f">1000</text>
<text x="37 44 51" y="163.0" fill="#d8202f">100</text>
<text x="44 51" y="235.0" fill="#d8202f">10</text>
<text x="51" y="307.0" fill="#d8202f">1</text>
<text x="51" y="379.0" fill="#d8202f">0</text>
<text x="57 64 71 78" y="391" fill="#1e1e1e">1993</text>
<text x="122 129 136 143" y="391" fill="#1e1e1e">1996</text>
<text x="187 194 201 208" y="391" fill="#1e1e1e">1999</text>
<text x="253 260 267 274" y="391" fill="#1e1e1e">2002</text>
<text x="318 325 332 339" y="391" fill="#1e1e1e">2005</text>
<text x="383 390 397 404" y="391" fill="#1e1e1e">2008</text>
<text x="448 455 462 469" y="391" fill="#1e1e1e">2011</text>
<text x="513 520 527 534" y="391" fill="#1e1e1e">2014</text>
<text x="578 585 592 599" y="391" fill="#1e1e1e">2017</text>
<text x="643 650 657 664" y="391" fill="#1e1e1e">2020</text>
<text x="708 715 722 729" y="391" fill="#1e1e1e">2023</text>
<text x="670 677 681 687 694 701 704 708 715 722 729 736" y="9" fill="#1e1e1e">V-Lab (2026)</text>
<text transform="translate(16,194) rotate(-90)" x="-24.5" y="0" textLength="49" lengthAdjust="spacing" fill="#000" stroke="#000" stroke-width="0.25">Illiquidity</text>
<rect x="72.5" y="344.5" width="432" height="25" fill="#fff" stroke="#000" stroke-width="1" shape-rendering="crispEdges"/>
<text x="219 227 230 236 242 245 252 255 262 265 272 278 282 286 289 295 298 305 312 315 321 325 332 335 339 342 349 356 359 362 369 376 379 382 388 394 397 405 408 411 414 417 420 427 434 437 444 447 451" y="355" fill="#1e1e1e">Nissin Electric Co Ltd - Spline ILLIQ Illiquidity</text>
<text x="186.5 194.5 197.5 203.5 209.5 212.5 219.5 222.5 229.5 232.5 239.5 245.5 249.5 253.5 256.5 262.5 265.5 272.5 279.5 282.5 288.5 292.5 299.5 302.5 306.5 309.5 316.5 323.5 326.5 329.5 336.5 343.5 346.5 349.5 355.5 361.5 364.5 372.5 375.5 378 381 384 387 393.5 400.5 403.5 410 413 417 423 426 432 436 443 450" y="367" fill="#1e1e1e">Nissin Electric Co Ltd - Spline ILLIQ Illiquidity Trend</text>
<path d="M464 350.5 H498" stroke="#e14655" stroke-width="1" fill="none"/>
<path d="M464 363.5 H498" stroke="#d7b955" stroke-width="1" fill="none"/>
</svg></body></html>
